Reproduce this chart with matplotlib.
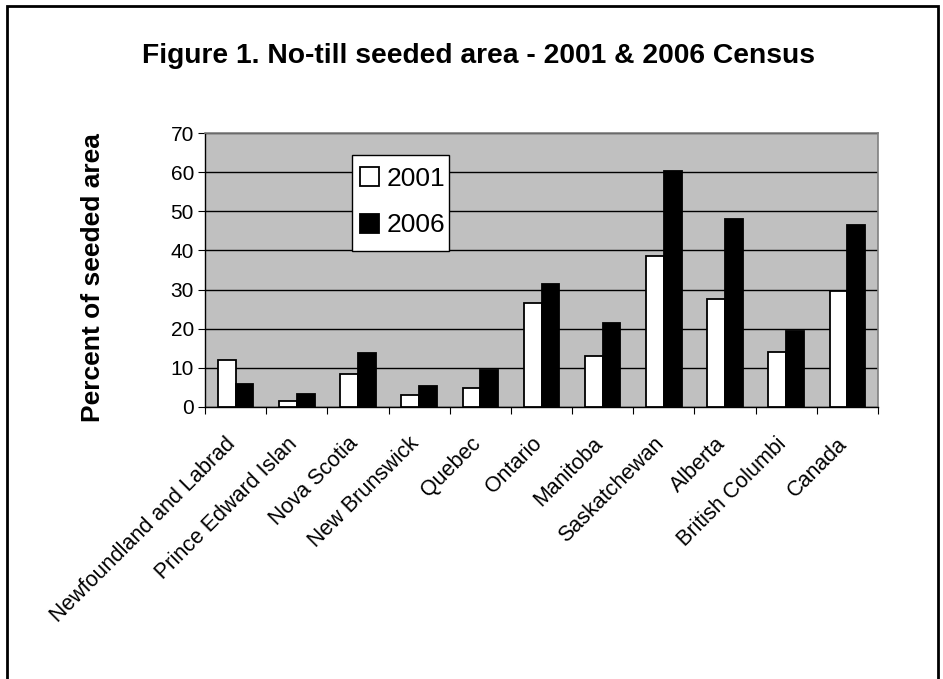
import matplotlib
matplotlib.use("Agg")
import matplotlib.pyplot as plt
import numpy as np
from matplotlib.patches import Rectangle
from matplotlib.transforms import blended_transform_factory, ScaledTranslation

plt.rcParams['font.family'] = ['Liberation Sans', 'DejaVu Sans']

# labels as they appear (clipped) in the original chart
categories = ["Newfoundland and Labrad", "Prince Edward Islan", "Nova Scotia",
              "New Brunswick", "Quebec", "Ontario", "Manitoba", "Saskatchewan",
              "Alberta", "British Columbi", "Canada"]
values_2001 = [12.0, 1.5, 8.3, 3.0, 4.7, 26.6, 13.0, 38.7, 27.7, 14.1, 29.6]
values_2006 = [5.7, 3.2, 13.7, 5.3, 9.4, 31.4, 21.5, 60.3, 48.1, 19.4, 46.6]
yticks = [0, 10, 20, 30, 40, 50, 60, 70]
title = "Figure 1. No-till seeded area - 2001 & 2006 Census"
ylabel = "Percent of seeded area"
series_names = ["2001", "2006"]

fig = plt.figure(figsize=(9.43, 6.79), dpi=100)
fig.patch.set_facecolor("white")
ax = fig.add_axes([205/943, 1-406.7/679, 673/943, 273.4/679])
ax.set_facecolor("#C0C0C0")

x = np.arange(len(categories))
w = 0.29
ax.bar(x - w/2, values_2001, w, color="white", edgecolor="black", linewidth=1.3,
       label=series_names[0], zorder=3)
ax.bar(x + w/2, values_2006, w, color="black", edgecolor="black", linewidth=1.3,
       label=series_names[1], zorder=3)

ax.set_xlim(-0.5, len(categories) - 0.5)
ax.set_ylim(0, 70)
ax.set_yticks(yticks)
ax.set_yticklabels([str(t) for t in yticks], fontsize=15)
ax.yaxis.grid(True, color="black", linewidth=1.0, zorder=1)
ax.set_axisbelow(True)

ax.set_xticks(np.arange(len(categories) + 1) - 0.5)
ax.set_xticklabels([])
ax.tick_params(axis="x", which="major", length=5, direction="out", color="black")
ax.tick_params(axis="y", length=5, direction="out", color="black", pad=3)

# category labels: rotated 45 degrees, ending at the category centre
blend = blended_transform_factory(ax.transData, ax.transAxes)
offset = ScaledTranslation(-3/100, -34/100, fig.dpi_scale_trans)
for i, name in enumerate(categories):
    fig.text(i, 0, name, transform=blend + offset, rotation=45,
             ha="right", va="center", rotation_mode="anchor", fontsize=15.5)

for s in ["top", "right"]:
    ax.spines[s].set_color("#808080")
    ax.spines[s].set_linewidth(1.2)
for s in ["left", "bottom"]:
    ax.spines[s].set_color("black")
    ax.spines[s].set_linewidth(1.0)

fig.text(93/943, 1-278/679, ylabel, ha="center", va="center", rotation=90,
         fontsize=19, fontweight="bold")

# legend box
lx0, lx1, ly0, ly1 = 352, 449, 155, 251
ax.add_patch(Rectangle(((lx0-205)/673, (406.7-ly1)/273.4), (lx1-lx0)/673,
                       (ly1-ly0)/273.4, transform=ax.transAxes, facecolor="white",
                       edgecolor="black", linewidth=1.0, zorder=4))
leg = ax.legend(loc="center", bbox_to_anchor=(((lx0+lx1)/2+2-205)/673,
                                             (406.7-(ly0+ly1)/2+1)/273.4),
                fontsize=19, frameon=False,
                handlelength=0.72, handleheight=0.72, handletextpad=0.3,
                labelspacing=0.86, borderpad=0.0, borderaxespad=0)
leg.set_zorder(5)

fig.text(478/943, 1-62.7/679, title, ha="center", va="baseline", fontsize=20.3,
         fontweight="bold")

fig.add_artist(Rectangle((7/943, -0.05), 931/943, 1.05 - 6/679,
                         transform=fig.transFigure, fill=False,
                         edgecolor="black", linewidth=2, clip_on=False))

fig.savefig("out.png", dpi=100)
